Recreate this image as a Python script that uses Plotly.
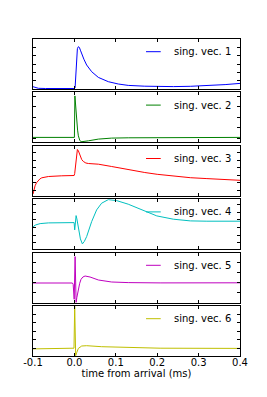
import plotly.graph_objects as go

# ---------------- data (time in ms, normalized amplitude) ----------------
t_vec1 = [-0.1, -0.093, -0.087, -0.07, 0.0, 0.0017, 0.0036, 0.0055, 0.0072, 0.0096, 0.012, 0.0145,
          0.0176, 0.0229, 0.0296, 0.0417, 0.0578, 0.082, 0.106, 0.13, 0.17, 0.207, 0.239, 0.28,
          0.32, 0.364, 0.4]
amp_vec1 = [0.046, 0.026, 0.014, 0.01, 0.01, 0.026, 0.286, 0.666, 0.806, 0.846, 0.832, 0.776,
            0.70, 0.596, 0.48, 0.346, 0.232, 0.146, 0.10, 0.072, 0.056, 0.05, 0.048, 0.054,
            0.066, 0.088, 0.112]

t_vec2 = [-0.1, 0.0, 0.0012, 0.0031, 0.0055, 0.0077, 0.0096, 0.0128, 0.016, 0.0217, 0.034,
          0.058, 0.09, 0.13, 0.207, 0.4]
amp_vec2 = [0.10, 0.10, 0.93, 0.666, 0.40, 0.246, 0.132, 0.046, 0.012, 0.014, 0.032,
            0.066, 0.086, 0.092, 0.098, 0.10]

t_vec3 = [-0.1, -0.0975, -0.095, -0.0916, -0.0884, -0.0836, -0.0788, -0.0627, -0.0306, -0.0007,
          0.0007, 0.0031, 0.0053, 0.0072, 0.0096, 0.0137, 0.0176, 0.0217, 0.0277, 0.0337, 0.058,
          0.09, 0.13, 0.17, 0.2, 0.24, 0.28, 0.32, 0.36, 0.4]
amp_vec3 = [0.036, 0.126, 0.20, 0.26, 0.30, 0.336, 0.36, 0.386, 0.40, 0.406,
            0.446, 0.686, 0.866, 0.926, 0.90, 0.80, 0.726, 0.686, 0.656, 0.646, 0.632,
            0.586, 0.52, 0.466, 0.43, 0.39, 0.362, 0.344, 0.326, 0.31]

t_vec4 = [-0.1, -0.0976, -0.0933, -0.088, -0.0827, -0.0627, -0.0007, 0.0007, 0.0024, 0.0041,
          0.006, 0.0096, 0.0145, 0.0193, 0.024, 0.0296, 0.0354, 0.0417, 0.0537, 0.0658, 0.082,
          0.102, 0.13, 0.17, 0.199, 0.239, 0.28, 0.32, 0.4]
amp_vec4 = [0.432, 0.466, 0.486, 0.506, 0.512, 0.526, 0.532, 0.386, 0.566, 0.672,
            0.606, 0.42, 0.206, 0.106, 0.156, 0.252, 0.406, 0.552, 0.786, 0.92, 0.992,
            0.972, 0.90, 0.766, 0.666, 0.60, 0.566, 0.56, 0.56]

t_vec5 = [-0.1, -0.0048, -0.003, -0.0017, -0.0005, 0.0017, 0.0041, 0.006, 0.0096, 0.0128,
          0.016, 0.0205, 0.0258, 0.0313, 0.0378, 0.058, 0.09, 0.13, 0.207, 0.4]
amp_vec5 = [0.392, 0.392, 0.366, 0.20, 0.066, 0.92, 0.0, 0.106, 0.266, 0.386,
            0.466, 0.512, 0.532, 0.526, 0.512, 0.452, 0.412, 0.40, 0.394, 0.396]

t_vec6 = [-0.1, -0.0024, -0.001, 0.0007, 0.0031, 0.0055, 0.0096, 0.0176, 0.0296, 0.0658,
          0.13, 0.207, 0.4]
amp_vec6 = [0.142, 0.15, 0.156, 0.996, 0.006, 0.066, 0.152, 0.20, 0.206, 0.186,
            0.166, 0.156, 0.152]

times = [t_vec1, t_vec2, t_vec3, t_vec4, t_vec5, t_vec6]
amps = [amp_vec1, amp_vec2, amp_vec3, amp_vec4, amp_vec5, amp_vec6]
labels = ["sing. vec. 1", "sing. vec. 2", "sing. vec. 3",
          "sing. vec. 4", "sing. vec. 5", "sing. vec. 6"]
colors = ["#0000ff", "#008000", "#ff0000", "#00bfbf", "#bf00bf", "#bfbf00"]

y_tick_sets = [
    [1/6, 2/6, 3/6, 4/6, 5/6],
    [0.085, 0.295, 0.505, 0.715, 0.925],
    [0.112, 0.263, 0.414, 0.565, 0.716, 0.867],
    [0.132, 0.283, 0.434, 0.585, 0.736, 0.887],
    [0.2, 0.4, 0.6, 0.8],
    [0.152, 0.322, 0.492, 0.662, 0.832],
]

x_tickvals = [-0.1, 0.0, 0.1, 0.2, 0.3, 0.4]
x_ticktext = ["-0.1", "0.0", "0.1", "0.2", "0.3", "0.4"]

# ---------------- layout ----------------
W, H = 267, 397
ML, MR, MT, MB = 33, 27, 39, 41
plot_h = H - MT - MB
gap_px = 3.4
panel_px = (plot_h - 5 * gap_px) / 6

FONT = "DejaVu Sans"

fig = go.Figure()
layout = dict(
    width=W, height=H,
    margin=dict(l=ML, r=MR, t=MT, b=MB, pad=0),
    paper_bgcolor="white", plot_bgcolor="white",
    showlegend=False,
    font=dict(family=FONT, size=10, color="black"),
)

shapes = []
annotations = []
for i in range(6):
    n = i + 1
    sx = "" if n == 1 else str(n)
    top = plot_h - i * (panel_px + gap_px)
    bot = top - panel_px
    fig.add_trace(go.Scatter(
        x=times[i], y=amps[i], mode="lines",
        line=dict(color=colors[i], width=1),
        xaxis="x" + sx, yaxis="y" + sx, name=labels[i],
    ))
    layout["xaxis" + sx] = dict(
        domain=[0, 1], anchor="y" + sx, range=[-0.1, 0.4],
        matches=None if n == 1 else "x",
        showline=True, linecolor="black", linewidth=1, mirror="ticks",
        ticks="inside", ticklen=3, tickwidth=1, tickcolor="black",
        tickvals=x_tickvals, ticktext=x_ticktext,
        showticklabels=(n == 6), showgrid=False, zeroline=False,
        tickfont=dict(family=FONT, size=10, color="black"),
    )
    if n == 6:
        layout["xaxis" + sx]["ticklabelstandoff"] = -3
        layout["xaxis" + sx]["title"] = dict(
            text="time from arrival (ms)", standoff=1,
            font=dict(family=FONT, size=10, color="black"))
    layout["yaxis" + sx] = dict(
        domain=[bot / plot_h, top / plot_h], anchor="x" + sx, range=[0, 1],
        showline=True, linecolor="black", linewidth=1, mirror="ticks",
        ticks="inside", ticklen=3, tickwidth=1, tickcolor="black",
        tickvals=y_tick_sets[i], showticklabels=False,
        showgrid=False, zeroline=False,
    )
    # legend entry (sample line + label)
    shapes.append(dict(
        type="line", xref=("x" + sx + " domain"), yref=("y" + sx + " domain"),
        x0=0.546, x1=0.617, y0=0.746, y1=0.746,
        line=dict(color=colors[i], width=1),
    ))
    annotations.append(dict(
        xref=("x" + sx + " domain"), yref=("y" + sx + " domain"),
        x=0.67, y=0.746, xanchor="left", yanchor="middle",
        text=labels[i], showarrow=False,
        font=dict(family=FONT, size=10, color="black"),
    ))

layout["shapes"] = shapes
layout["annotations"] = annotations
fig.update_layout(**layout)
fig.write_html("out.html", config={"displayModeBar": False},
               post_script="document.body.style.margin='0';")
